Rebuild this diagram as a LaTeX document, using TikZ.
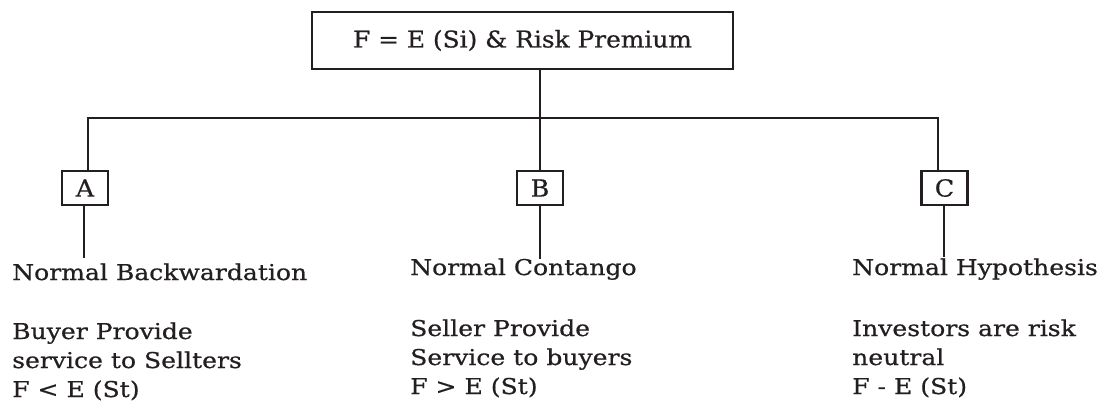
\documentclass[tikz,border=0pt]{standalone}
\usepackage{fontspec}
\setmainfont{DejaVu Serif}
\newfontfamily\rootfont[FakeStretch=1.08,FakeBold=0.6]{DejaVu Serif}
\newfontfamily\casefont[FakeStretch=1.15,FakeBold=0.6]{DejaVu Serif}
\definecolor{ink}{HTML}{231F20}
\begin{document}
\begin{tikzpicture}[x=1pt,y=-1pt,
  line/.style={draw=ink,line width=2.8pt},
  thin/.style={draw=ink,line width=2pt},
  topbox/.style={draw=ink,line width=2.4pt,minimum width=421pt,minimum height=57pt,inner sep=0pt,font=\rootfont\fontsize{23}{26}\selectfont,text=ink},
  letterbox/.style={draw=ink,line width=2.6pt,minimum width=46pt,minimum height=34pt,inner sep=0pt,font=\rootfont\fontsize{23.5}{26}\selectfont,text=ink},
  heading/.style={anchor=base west,inner sep=0pt,font=\casefont\fontsize{21.8}{24}\selectfont,text=ink},
  body/.style={anchor=base west,inner sep=0pt,align=left,font=\casefont\fontsize{21.8}{29}\selectfont,text=ink}]
\useasboundingbox (0,0) rectangle (1102,405);
% root formula
\node[topbox] (top) at (522.5,40.5) {F = E (Si) \& Risk Premium};
% the three cases
\node[letterbox] (A) at (85,188) {A};
\node[letterbox] (B) at (540,188) {B};
\node[letterbox] (C) at (944.5,188) {C};
% branch bar
\coordinate (barL) at (88,118);
\coordinate (barR) at (938,118);
\draw[line] ([xshift=3pt]A.north) -- (barL) -- (barR) -- ([xshift=-6.5pt]C.north);
\draw[thin] (B.north |- top.south) -- (B.north);
% stems down to the texts
\coordinate (endA) at (84,258);
\coordinate (endB) at (540,259);
\coordinate (endC) at (944,257);
\draw[line] ([xshift=-1pt]A.south) -- (endA);
\draw[line] (B.south) -- (endB);
\draw[line] ([xshift=-0.5pt]C.south) -- (endC);
% descriptions (body nodes are placed by the baseline of their last line)
\node[heading] (hA) at (12,280) {Normal Backwardation};
\node[body] (tA) at (12,397) {Buyer Provide\\service to Sellters\\F < E (St)};
\node[heading] (hB) at (410,275) {Normal Contango};
\node[body] (tB) at (410,394) {Seller Provide\\Service to buyers\\F > E (St)};
\node[heading] (hC) at (852,275) {Normal Hypothesis};
\node[body] (tC) at (852,394) {Investors are risk\\neutral\\F - E (St)};
\end{tikzpicture}
\end{document}
